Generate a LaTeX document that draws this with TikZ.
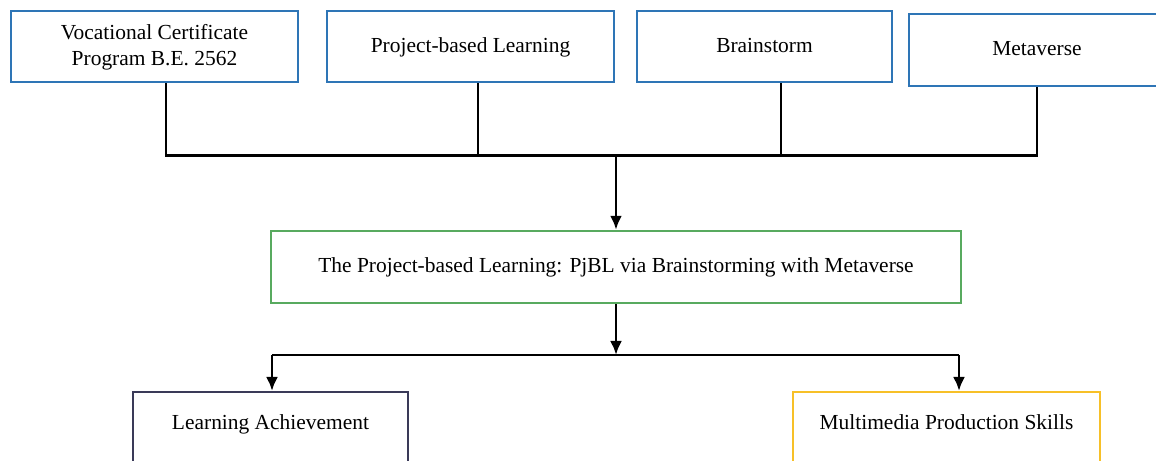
\documentclass[tikz,border=0pt]{standalone}
\usepackage{fontspec}
\setmainfont{Liberation Serif}
\usepackage{tikz}
\usetikzlibrary{arrows.meta}
\usepackage{color}
\definecolor{bb}{RGB}{46,117,182}
\definecolor{gg}{RGB}{88,170,95}
\definecolor{yy}{RGB}{247,192,40}
\definecolor{nn}{RGB}{58,58,88}
\tikzset{
  topbox/.style={draw=bb, line width=1.3pt, fill=white, minimum height=1.42cm, align=center, inner sep=0pt, text depth=0.05cm},
  midbox/.style={draw=gg, line width=1.3pt, fill=white, minimum height=1.44cm, minimum width=13.8cm, inner sep=0pt},
  endbox/.style={line width=1.3pt, fill=white, minimum height=1.6cm, anchor=north, text depth=0.4cm, inner sep=0pt},
  wire/.style={line width=1.6pt},
  arr/.style={wire, -{Latex[length=2.8mm,width=2.4mm]}}
}

\begin{document}
\begin{tikzpicture}[font=\fontsize{12.2}{14.7}\selectfont]
\useasboundingbox (0,0) rectangle (23.12,-9.22);
% top row
\node[topbox, minimum width=5.74cm] (voc) at (3.09,-0.93) {Vocational Certificate\\Program B.E. 2562};
\node[topbox, minimum width=5.74cm] (pbl) at (9.41,-0.93) {Project-based Learning};
\node[topbox, minimum width=5.1cm] (brain) at (15.29,-0.93) {Brainstorm};
\node[topbox, minimum width=5.12cm, minimum height=1.44cm] (meta) at (20.74,-1.0) {Metaverse};
% joints of the upper bus
\coordinate (j1) at (3.32,-3.11);
\coordinate (j2) at (9.56,-3.11);
\coordinate (j3) at (15.62,-3.11);
\coordinate (j4) at (20.74,-3.11);
\coordinate (jm) at (12.32,-3.11);
\draw[wire] (j1 |- voc.south) -- (j1) -- (j4) -- (meta.south);
\draw[wire] (j2 |- pbl.south) -- (j2);
\draw[wire] (j3 |- brain.south) -- (j3);
% middle
\node[midbox] (pjbl) at (12.32,-5.34) {The Project-based Learning: PjBL via Brainstorming with Metaverse};
\draw[arr] (jm) -- (pjbl.north);
% outcomes
\node[endbox, draw=nn, minimum width=5.5cm] (ach) at (5.41,-7.82) {Learning Achievement};
\node[endbox, draw=yy, minimum width=6.14cm] (skill) at (18.93,-7.82) {Multimedia Production Skills};
\coordinate (split) at (12.32,-7.1);
\coordinate (kl) at (5.44,-7.1);
\coordinate (kr) at (19.18,-7.1);
\draw[arr] (pjbl.south) -- (split);
\draw[wire] (kl) -- (kr);
\draw[arr] (kl) -- (kl |- ach.north);
\draw[arr] (kr) -- (kr |- skill.north);
\end{tikzpicture}
\end{document}
